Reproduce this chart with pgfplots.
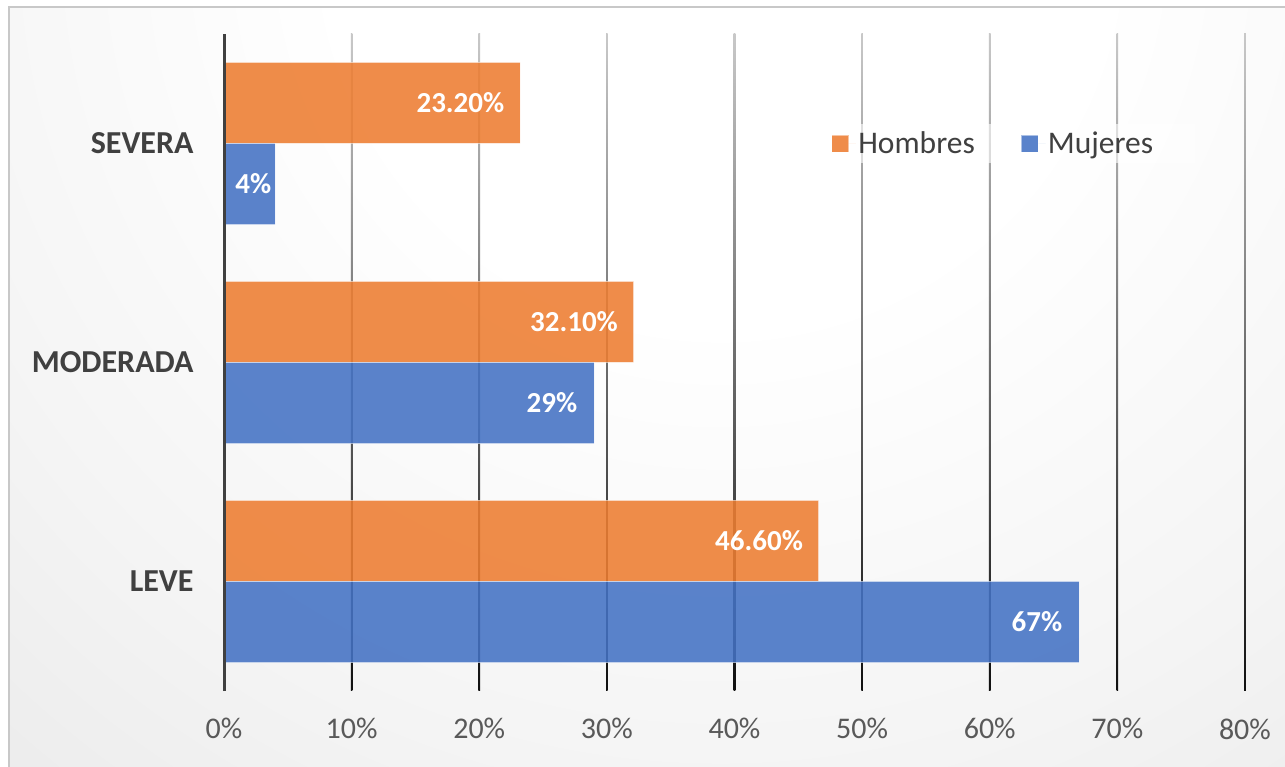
\documentclass[border=0pt]{standalone}
\usepackage{pgfplots}
\pgfplotsset{compat=1.18}
\usepackage{pgfplotstable}
\usepackage{fontspec}
\setmainfont{Carlito}
\definecolor{bOrange}{HTML}{ED7D31}
\definecolor{bBlue}{HTML}{4472C4}
\definecolor{tickgray}{HTML}{595959}
\definecolor{labgray}{HTML}{404040}
\definecolor{bgA}{gray}{0.96}
\definecolor{bgB}{gray}{0.915}
\definecolor{bgC}{gray}{0.88}
\definecolor{bgD}{gray}{0.85}
\definecolor{bgE}{gray}{0.825}
\definecolor{gridtop}{HTML}{C8C8C8}
\definecolor{gridbot}{HTML}{101010}
\definecolor{frame}{HTML}{C8C8C8}
\pgfdeclareradialshading{bgshade}{\pgfpoint{0bp}{0bp}}{color(0bp)=(white); color(8bp)=(white); color(17bp)=(bgA); color(25bp)=(bgB); color(33bp)=(bgC); color(41bp)=(bgD); color(50bp)=(bgE)}

\pgfplotstableread{
y x lab sh
0 46.6 46.60\% -12
1 32.1 32.10\% -12
2 23.2 23.20\% -12
}\hombres
\pgfplotstableread{
y x lab sh
0 67 67\% -13
1 29 29\% -13
2 4 4\% 0
}\mujeres

\begin{document}
\begin{tikzpicture}[x=1bp,y=1bp]
\path[use as bounding box] (0bp,0bp) rectangle (1285bp,767bp);
\begin{scope}
\clip (9bp,0bp) rectangle (1285bp,760bp);
\shade[shading=bgshade] (720bp,830bp) circle (1200bp);
\end{scope}
\draw[frame, line width=1.5bp] (9bp,-5bp) rectangle (1295bp,760bp);
\begin{axis}[
  at={(224bp,76bp)}, anchor=south west,
  scale only axis, width=1021bp, height=657bp,
  xmin=0, xmax=80, ymin=-0.5, ymax=2.5,
  clip=false,
  xbar, bar width=0.37,
  axis line style={draw=none},
  major tick length=0pt,
  xtick={0,10,20,30,40,50,60,70,80},
  xticklabels={0\%,10\%,20\%,30\%,40\%,50\%,60\%,70\%,80\%},
  ytick={0,1,2},
  yticklabels={LEVE,MODERADA,SEVERA},
  xticklabel style={font=\fontsize{30bp}{36bp}\selectfont, text=tickgray, yshift=-24bp},
  yticklabel style={font=\bfseries\fontsize{32bp}{38bp}\selectfont, text=labgray, xshift=-27bp},
  legend columns=2,
  legend cell align=left,
  legend image code/.code={\fill[#1] (0bp,-8.5bp) rectangle (17bp,8.5bp); \path (17bp,0bp) -- (24bp,0bp);},
  legend style={at={(rel axis cs:0.5555,0.833)}, anchor=west, draw=none,
    fill=white, fill opacity=0.6, text opacity=1, text=labgray,
    font=\fontsize{31.5bp}{38bp}\selectfont, inner xsep=40bp, inner ysep=6bp,
    /tikz/every even column/.append style={column sep=44bp}},
]
\pgfplotsinvokeforeach{10,20,30,40,50,60,70,80}{
  \shade[top color=gridtop, bottom color=gridbot] ([xshift=-0.8bp]axis cs:#1,-0.5) rectangle ([xshift=0.8bp]axis cs:#1,2.5);
}
\addplot[fill=bOrange, fill opacity=0.88, draw=white, draw opacity=0.5, line width=1bp,
  bar shift=0.185, point meta=explicit symbolic, nodes near coords,
  visualization depends on={\thisrow{sh}\as\sh},
  nodes near coords style={anchor=east, xshift={\sh*1bp}, text=white, text opacity=1,
    font=\bfseries\fontsize{29bp}{35bp}\selectfont}]
  table[x=x, y=y, meta=lab] {\hombres};
\addlegendentry{Hombres}
\addplot[fill=bBlue, fill opacity=0.88, draw=white, draw opacity=0.5, line width=1bp,
  bar shift=-0.185, point meta=explicit symbolic, nodes near coords,
  visualization depends on={\thisrow{sh}\as\sh},
  nodes near coords style={anchor=east, xshift={\sh*1bp}, text=white, text opacity=1,
    font=\bfseries\fontsize{29bp}{35bp}\selectfont}]
  table[x=x, y=y, meta=lab] {\mujeres};
\addlegendentry{Mujeres}
\draw[labgray, line width=3bp] (axis cs:0,-0.5) -- (axis cs:0,2.5);
\end{axis}
\end{tikzpicture}
\end{document}
